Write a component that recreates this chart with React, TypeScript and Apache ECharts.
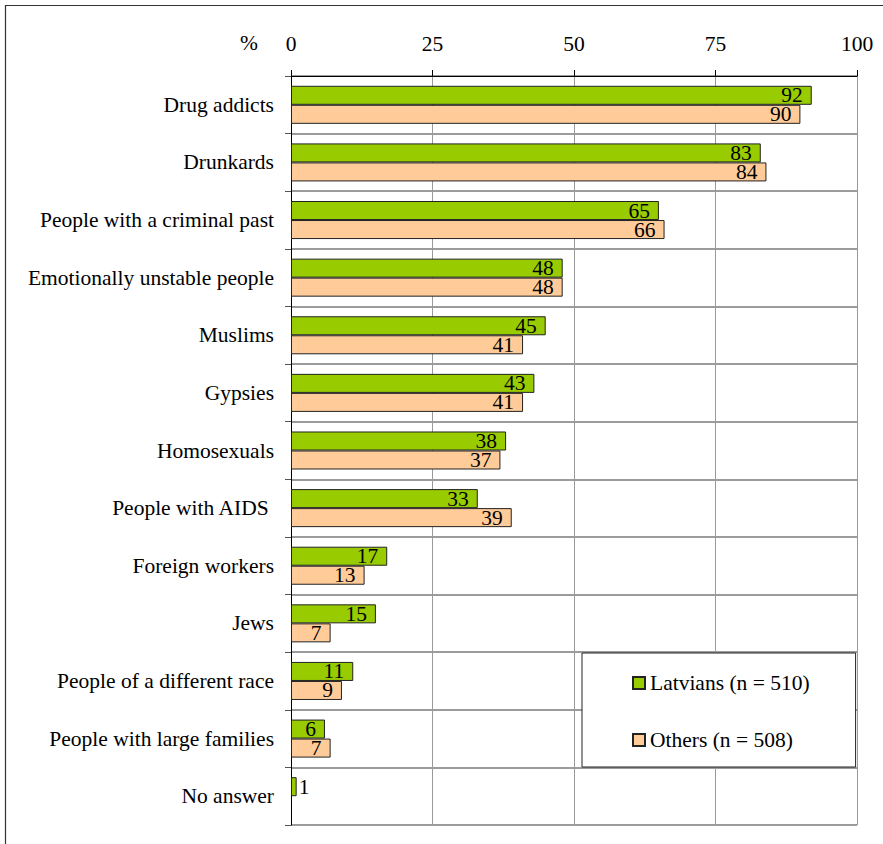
import React, { useEffect, useRef } from "react";
import * as echarts from "echarts";

const categories = [
  "Drug addicts",
  "Drunkards",
  "People with a criminal past",
  "Emotionally unstable people",
  "Muslims",
  "Gypsies",
  "Homosexuals",
  "People with AIDS ",
  "Foreign workers",
  "Jews",
  "People of a different race",
  "People with large families",
  "No answer",
];
const latvians = [92, 83, 65, 48, 45, 43, 38, 33, 17, 15, 11, 6, 1];
const others: (number | null)[] = [90, 84, 66, 48, 41, 41, 37, 39, 13, 7, 9, 7, null];
const xTicks = [0, 25, 50, 75, 100];
const seriesNames = ["Latvians (n = 510)", "Others (n = 508)"];

const FONT = "Liberation Serif";
const FS = 21.5;

export default function App() {
  const ref = useRef<HTMLDivElement>(null);
  useEffect(() => {
    if (!ref.current) return;
    const chart = echarts.init(ref.current, undefined, { renderer: "svg" });
    const labelCfg = {
      show: true,
      position: "insideRight",
      distance: 9,
      color: "#000",
      fontSize: FS,
      fontFamily: FONT,
    };
    chart.setOption({
      animation: false,
      backgroundColor: "#fff",
      textStyle: { fontFamily: FONT },
      grid: { left: 291, right: 26, top: 76, bottom: 19, containLabel: false },
      legend: {
        orient: "vertical",
        left: 582,
        top: 653,
        padding: [19, 46, 16, 50],
        itemGap: 35,
        itemWidth: 12,
        itemHeight: 12,
        icon: "rect",
        backgroundColor: "#fff",
        borderColor: "#222",
        borderWidth: 1,
        textStyle: { fontSize: FS, fontFamily: FONT, color: "#000" },
        data: seriesNames,
      },
      xAxis: {
        type: "value",
        position: "top",
        min: xTicks[0],
        max: xTicks[xTicks.length - 1],
        interval: 25,
        axisLine: { show: true, lineStyle: { color: "#000", width: 1 } },
        axisTick: { show: true, length: 6, lineStyle: { color: "#000" } },
        axisLabel: { fontSize: FS, fontFamily: FONT, color: "#000", margin: 21 },
        splitLine: { show: true, lineStyle: { color: "#9a9a9a", width: 1 } },
      },
      yAxis: {
        type: "category",
        inverse: true,
        data: categories,
        axisLine: { show: true, lineStyle: { color: "#000", width: 1 } },
        axisTick: { show: true, length: 6, lineStyle: { color: "#555" } },
        axisLabel: { fontSize: FS, fontFamily: FONT, color: "#000", margin: 17 },
        splitLine: { show: true, interval: 0, lineStyle: { color: "#7a7a7a", width: 1.5 } },
      },
      series: [
        {
          name: seriesNames[0],
          type: "bar",
          barGap: "0%",
          barCategoryGap: "34%",
          itemStyle: { color: "#99CC00", borderColor: "#222", borderWidth: 1 },
          label: labelCfg,
          data: latvians.map((v) =>
            v < 3
              ? { value: v, label: { position: "right", distance: 2 } }
              : v
          ),
        },
        {
          name: seriesNames[1],
          type: "bar",
          barGap: "0%",
          barCategoryGap: "34%",
          itemStyle: { color: "#FFCC99", borderColor: "#222", borderWidth: 1 },
          label: labelCfg,
          data: others.map((v) => (v === null ? "-" : v)),
        },
      ],
      graphic: [
        {
          type: "rect",
          shape: { x: 5.5, y: 5.5, width: 1000, height: 1000 },
          style: { fill: "none", stroke: "#333", lineWidth: 1.2 },
          silent: true,
        },
        {
          type: "text",
          x: 249,
          y: 43,
          style: {
            text: "%",
            fontSize: FS,
            fontFamily: FONT,
            fill: "#000",
            align: "center",
            verticalAlign: "middle",
          },
        },
      ],
    });
    return () => chart.dispose();
  }, []);
  return (
    <div
      ref={ref}
      style={{ position: "fixed", left: 0, top: 0, width: 883, height: 844 }}
    />
  );
}
